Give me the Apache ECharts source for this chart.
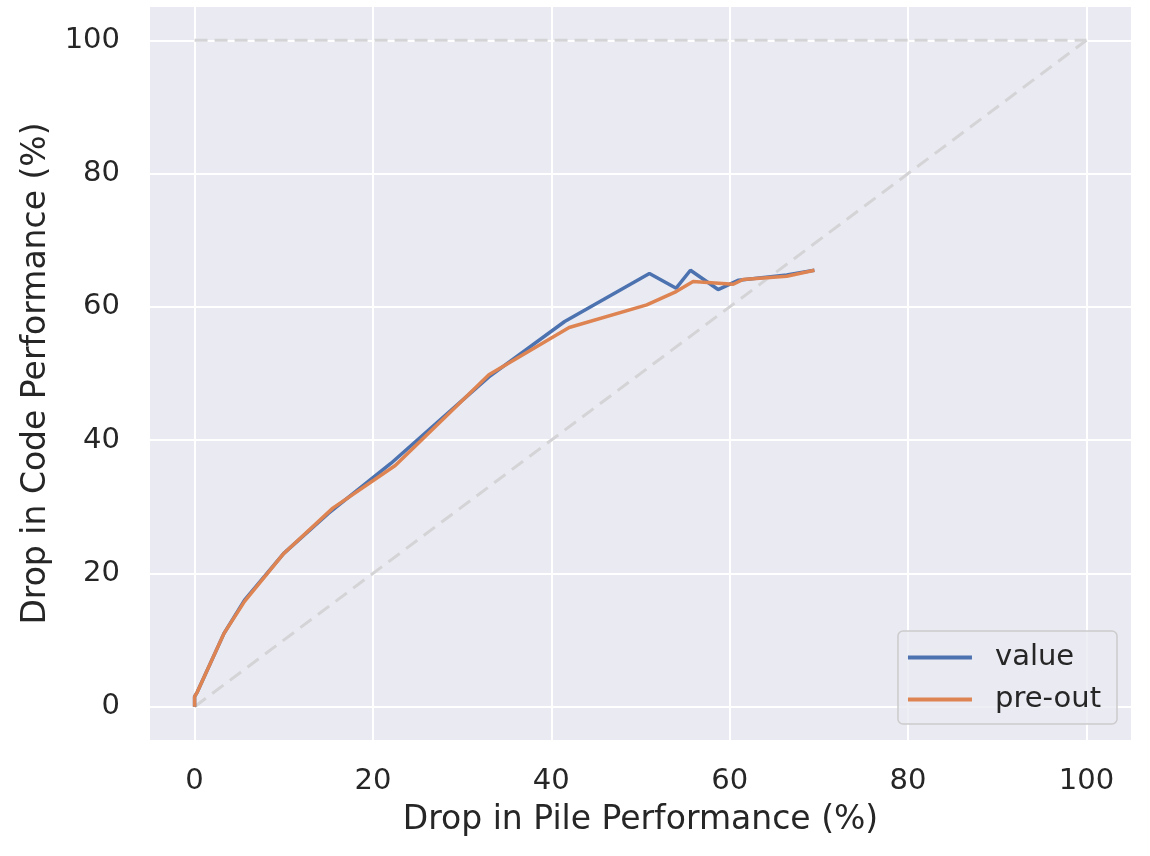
<!DOCTYPE html>
<html>
<head>
<meta charset="utf-8">
<script src="https://cdn.jsdelivr.net/npm/echarts@6/dist/echarts.min.js"></script>
<style>html,body{margin:0;padding:0;background:#fff}#c{width:1150px;height:856px}</style>
</head>
<body>
<div id="c"></div>
<script>
const tickValues = [0, 20, 40, 60, 80, 100];
const valueX = [0, 0, 0.3, 3.3, 5.6, 10, 15, 22, 33, 41.5, 51, 54, 55.6, 58.7, 61, 66.4, 69.5];
const valueY = [0, 1.5, 2.2, 11, 16, 23, 29, 36.5, 49.5, 57.8, 65, 62.8, 65.5, 62.6, 64, 64.8, 65.5];
const preX = [0, 0, 0.3, 3.3, 5.6, 10, 15.5, 22.5, 33, 42, 50.7, 54, 55.9, 60.4, 61.5, 66.4, 69.5];
const preY = [0, 1.5, 2.2, 11, 15.8, 23, 29.8, 36.2, 49.8, 56.9, 60.3, 62.3, 63.8, 63.4, 64.1, 64.6, 65.5];
const topRefX = [0, 100];
const topRefY = [100, 100];
const diagRefX = [0, 100];
const diagRefY = [0, 100];

const zip = (a, b) => a.map((v, i) => [v, b[i]]);
const font = 'DejaVu Sans';
const chart = echarts.init(document.getElementById('c'), null, {renderer: 'canvas'});
chart.setOption({
  animation: false,
  backgroundColor: '#ffffff',
  grid: {left: 150, right: 19, top: 7, bottom: 116, show: true, backgroundColor: '#eaeaf2', borderWidth: 0},
  xAxis: {
    type: 'value', min: -5, max: 105,
    name: 'Drop in Pile Performance (%)', nameLocation: 'middle', nameGap: 64,
    nameTextStyle: {fontFamily: font, fontSize: 33, color: '#262626'},
    axisLine: {show: false}, axisTick: {show: false, customValues: tickValues},
    axisLabel: {customValues: tickValues, fontFamily: font, fontSize: 29, color: '#262626', margin: 27},
    splitLine: {show: true, lineStyle: {color: '#ffffff', width: 2}}
  },
  yAxis: {
    type: 'value', min: -5, max: 105,
    name: 'Drop in Code Performance (%)', nameLocation: 'middle', nameGap: 97,
    nameTextStyle: {fontFamily: font, fontSize: 33, color: '#262626'},
    axisLine: {show: false}, axisTick: {show: false, customValues: tickValues},
    axisLabel: {customValues: tickValues, fontFamily: font, fontSize: 29, color: '#262626', margin: 30},
    splitLine: {show: true, lineStyle: {color: '#ffffff', width: 2}}
  },
  legend: {
    right: 33, bottom: 132, orient: 'vertical',
    data: ['value', 'pre-out'],
    itemWidth: 64, itemHeight: 4, itemGap: 13,
    icon: 'rect',
    textStyle: {fontFamily: font, fontSize: 29, color: '#262626', padding: [0, 0, 0, 18]},
    backgroundColor: 'rgba(234,234,242,0.8)', borderColor: '#cccccc', borderWidth: 1.5, borderRadius: 5,
    padding: [12, 16, 10, 10]
  },
  series: [
    {name: 'ref-top', type: 'line', data: zip(topRefX, topRefY), showSymbol: false, silent: true,
     lineStyle: {color: '#d4d4d7', width: 3, type: [13, 7]}, z: 1},
    {name: 'ref-diag', type: 'line', data: zip(diagRefX, diagRefY), showSymbol: false, silent: true,
     lineStyle: {color: '#d4d4d7', width: 3, type: [14, 8]}, z: 1},
    {name: 'value', type: 'line', data: zip(valueX, valueY), showSymbol: false,
     lineStyle: {color: '#4c72b0', width: 3.5}, itemStyle: {color: '#4c72b0'}, z: 3},
    {name: 'pre-out', type: 'line', data: zip(preX, preY), showSymbol: false,
     lineStyle: {color: '#dd8452', width: 3.5}, itemStyle: {color: '#dd8452'}, z: 4}
  ]
});
</script>
</body>
</html>
